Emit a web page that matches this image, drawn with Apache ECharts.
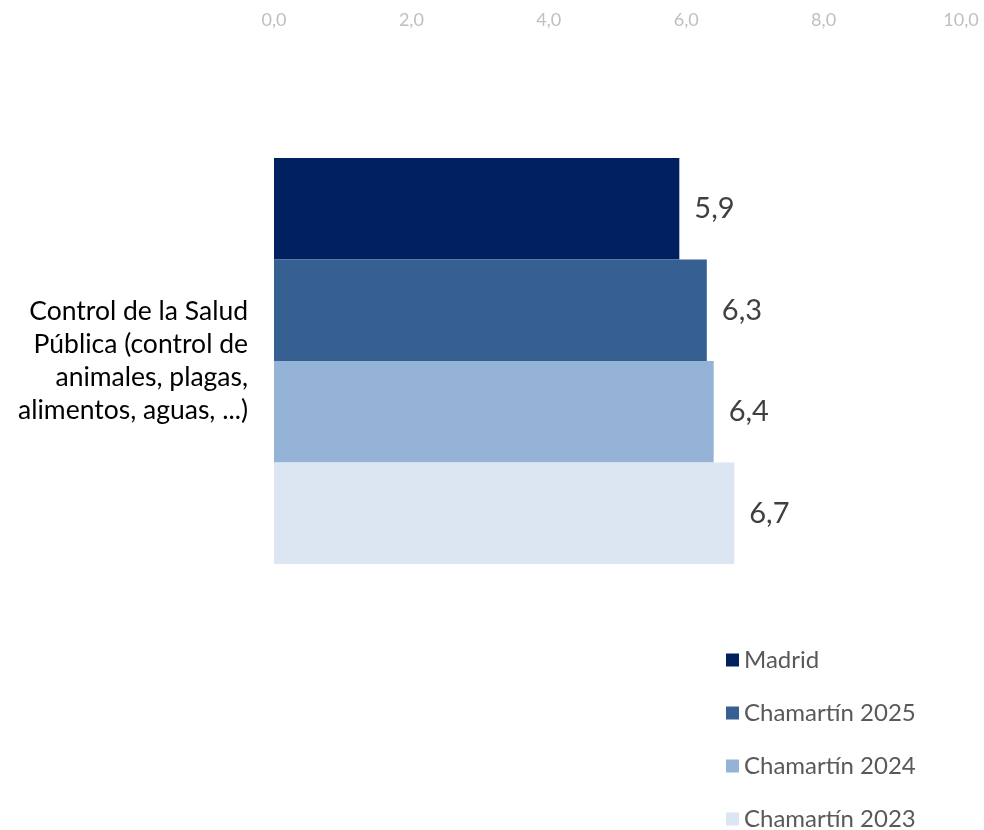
<!DOCTYPE html>
<html><head><meta charset="utf-8">
<script src="https://cdn.jsdelivr.net/npm/echarts@6/dist/echarts.min.js"></script>
<style>html,body{margin:0;padding:0;background:#fff}#c{width:984px;height:830px}</style>
</head><body><div id="c"></div>
<script>
const categories = ['Control de la Salud\nPública (control de\nanimales, plagas,\nalimentos, aguas, ...)'];
const seriesNames = ['Madrid', 'Chamartín 2025', 'Chamartín 2024', 'Chamartín 2023'];
const madrid = [5.9];
const cham2025 = [6.3];
const cham2024 = [6.4];
const cham2023 = [6.7];
const colors = ['#002060', '#376092', '#95B3D7', '#DCE6F2'];

const seriesData = [madrid, cham2025, cham2024, cham2023];
const chart = echarts.init(document.getElementById('c'));
const fmt = v => v.toFixed(1).replace('.', ',');
chart.setOption({
  animation: false,
  textStyle: { fontFamily: 'Lato' },
  grid: { left: 274, right: 23, top: 158, height: 406, containLabel: false },
  xAxis: {
    type: 'value', position: 'top', min: 0, max: 10, interval: 2,
    axisLine: { show: false }, axisTick: { show: false }, splitLine: { show: false },
    axisLabel: { color: '#BFBFBF', fontSize: 18, margin: 129, formatter: fmt }
  },
  yAxis: {
    type: 'category', data: categories, inverse: true,
    axisLine: { show: false }, axisTick: { show: false },
    axisLabel: { color: '#000000', fontSize: 26.5, lineHeight: 33, margin: 26, align: 'right' }
  },
  legend: {
    orient: 'vertical', left: 721, top: 643, height: 187, itemGap: 29, itemWidth: 13, itemHeight: 13,
    icon: 'rect', textStyle: { color: '#595959', fontSize: 24, fontFamily: 'Lato' },
    data: seriesNames
  },
  series: seriesNames.map((n, i) => ({
    name: n, type: 'bar', data: seriesData[i],
    barGap: '0%', barCategoryGap: '0%',
    itemStyle: { color: colors[i] },
    label: { show: true, position: 'right', distance: 15, color: '#404040', fontSize: 29,
      formatter: p => fmt(p.value) }
  }))
});
</script></body></html>
